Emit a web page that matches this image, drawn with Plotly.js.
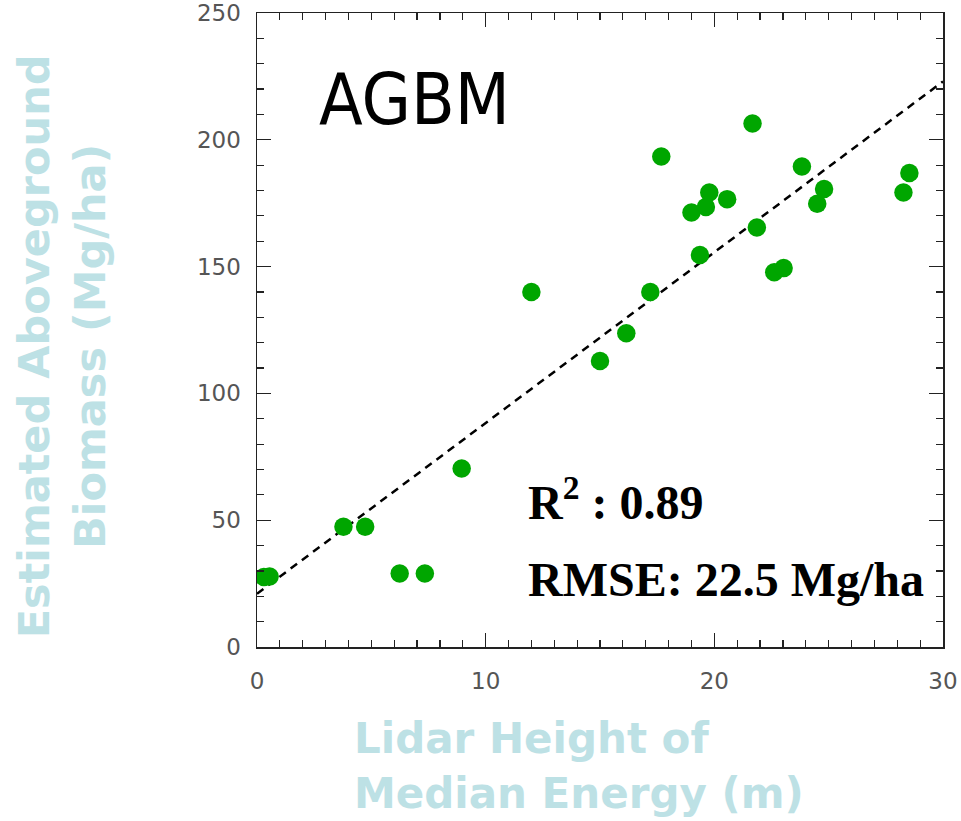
<!DOCTYPE html>
<html>
<head>
<meta charset="utf-8">
<script src="https://cdn.plot.ly/plotly-3.0.1.min.js"></script>
<style>html,body{margin:0;padding:0;background:#fff;}#chart{width:961px;height:821px;}</style>
</head>
<body>
<div id="chart"></div>
<script>
// Lidar height of median energy (m)
const lidarHeight = [0.3, 0.55, 3.78, 4.73, 6.24, 7.34, 8.95, 12.0, 15.0, 16.15, 17.2, 17.68, 19.0, 19.37, 19.63, 19.78, 20.56, 21.67, 21.86, 22.62, 23.03, 23.83, 24.5, 24.8, 28.27, 28.53];
// Estimated aboveground biomass (Mg/ha)
const biomass = [27.6, 27.8, 47.4, 47.4, 29.0, 29.0, 70.4, 140.0, 112.8, 123.7, 140.0, 193.4, 171.3, 154.6, 173.5, 179.2, 176.6, 206.4, 165.4, 147.8, 149.4, 189.5, 174.8, 180.6, 179.2, 186.9];
// Regression line endpoints
const fitX = [0, 30];
const fitY = [21, 223];
const xTicks = [0, 10, 20, 30];
const yTicks = [0, 50, 100, 150, 200, 250];
const panelLabel = 'AGBM';
const r2Label = 'R<sup>2</sup> : 0.89';
const rmseLabel = 'RMSE: 22.5 Mg/ha';
const xTitle = 'Lidar Height of<br>Median Energy (m)';
const yTitle = 'Estimated Aboveground<br>Biomass (Mg/ha)';

const titleColor = '#bde1e5';
const tickFont = {family: 'DejaVu Sans, sans-serif', size: 23, color: '#555'};

const traces = [
  {x: fitX, y: fitY, mode: 'lines', type: 'scatter',
   line: {color: '#000', width: 2.5, dash: '8px,6px'}, hoverinfo: 'skip'},
  {x: lidarHeight, y: biomass, mode: 'markers', type: 'scatter',
   marker: {color: '#00a600', size: 18.5, line: {width: 0}}}
];

const axisCommon = {
  showgrid: false, zeroline: false, showline: true, linecolor: '#222', linewidth: 1.5,
  mirror: 'allticks', ticks: 'inside', ticklen: 14, tickwidth: 1.2, tickcolor: '#222',
  tickfont: tickFont, tickmode: 'array'
};

const layout = {
  width: 961, height: 821,
  margin: {l: 257, r: 18, t: 13, b: 174},
  paper_bgcolor: '#fff', plot_bgcolor: '#fff',
  showlegend: false,
  xaxis: Object.assign({}, axisCommon, {
    range: [0, 30], tickvals: xTicks, ticktext: xTicks.map(String),
    ticklabelstandoff: 13,
    minor: {dtick: 1, ticks: 'inside', ticklen: 7, tickwidth: 1.2, tickcolor: '#222'}
  }),
  yaxis: Object.assign({}, axisCommon, {
    range: [0, 250], tickvals: yTicks, ticktext: yTicks.map(String),
    ticklabelstandoff: 10,
    minor: {dtick: 10, ticks: 'inside', ticklen: 7, tickwidth: 1.2, tickcolor: '#222'}
  }),
  annotations: [
    {text: panelLabel, xref: 'paper', yref: 'paper', x: 0.088, y: 0.863, xanchor: 'left', yanchor: 'middle',
     showarrow: false, font: {family: 'DejaVu Sans Condensed, Liberation Sans, sans-serif', size: 71, color: '#000'}},
    {text: r2Label, xref: 'paper', yref: 'paper', x: 0.392, y: 0.234, xanchor: 'left', yanchor: 'middle',
     showarrow: false, font: {family: 'Liberation Serif, Times New Roman, serif', size: 48, color: '#000', weight: 'bold'}},
    {text: rmseLabel, xref: 'paper', yref: 'paper', x: 0.392, y: 0.106, xanchor: 'left', yanchor: 'middle',
     showarrow: false, font: {family: 'Liberation Serif, Times New Roman, serif', size: 48, color: '#000', weight: 'bold'}},
    {text: xTitle, xref: 'paper', yref: 'paper', x: 0.139, y: -0.103, xanchor: 'left', yanchor: 'top', align: 'left',
     showarrow: false, font: {family: 'DejaVu Sans, sans-serif', size: 42, color: titleColor, weight: 'bold'}},
    {text: yTitle, xref: 'paper', yref: 'paper', x: -0.285, y: 0.475, xanchor: 'center', yanchor: 'middle', align: 'center',
     textangle: -90, showarrow: false,
     font: {family: 'DejaVu Sans, sans-serif', size: 43, color: titleColor, weight: 'bold'}}
  ]
};

Plotly.newPlot('chart', traces, layout, {displayModeBar: false, staticPlot: true});
</script>
</body>
</html>
